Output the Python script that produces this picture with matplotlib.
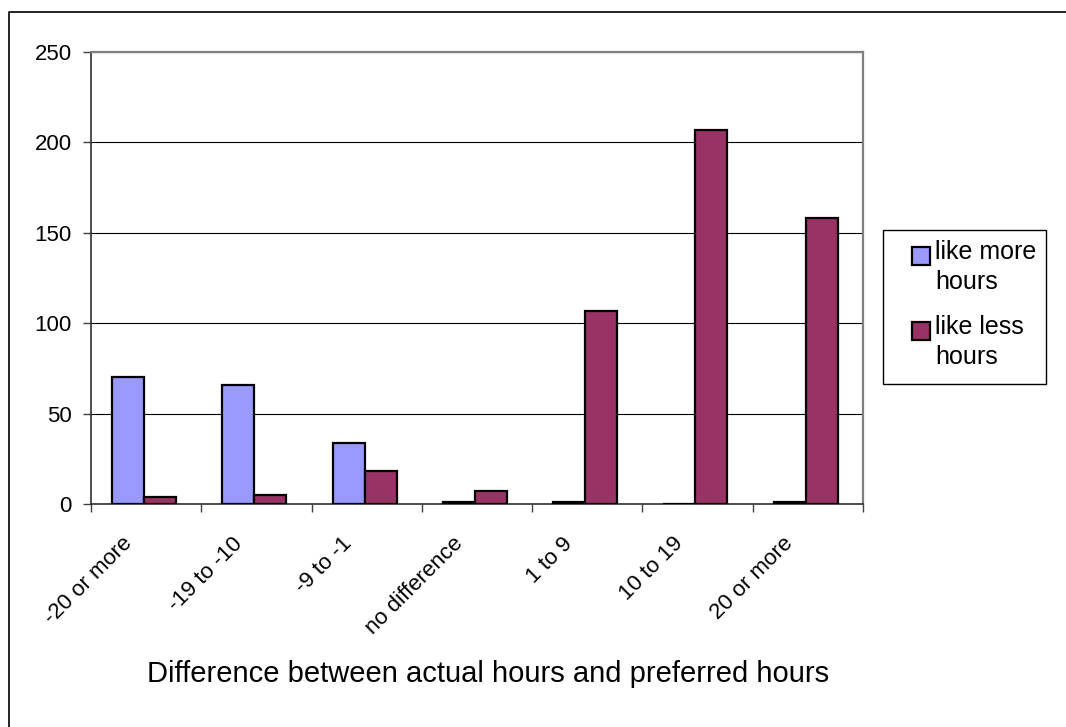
import numpy as np
import matplotlib
matplotlib.use("Agg")
import matplotlib.pyplot as plt
import matplotlib.transforms as mtransforms
from matplotlib.lines import Line2D
from matplotlib.patches import Rectangle

plt.rcParams['font.family'] = ['Liberation Sans', 'DejaVu Sans']

categories = ['-20 or more', '-19 to -10', '-9 to -1', 'no difference',
              '1 to 9', '10 to 19', '20 or more']
more_hours = [70, 66, 34, 1, 1, 0, 1]
less_hours = [4, 5, 18, 7, 107, 207, 158]
series_names = ['like more\nhours', 'like less\nhours']
series_colors = ['#9999FF', '#993366']

W, H = 1066, 727
fig = plt.figure(figsize=(W / 100, H / 100), dpi=100)
ax = fig.add_axes([0.0854, 0.3067, 0.7242, 0.6217])


def fx(px):
    return px / W


def fy(py):
    return 1 - py / H


ind = np.arange(len(categories))
w = 0.29
ax.bar(ind - 0.02 - w / 2, more_hours, w, color=series_colors[0], edgecolor='black',
       linewidth=1.6, zorder=3)
ax.bar(ind - 0.02 + w / 2, less_hours, w, color=series_colors[1], edgecolor='black',
       linewidth=1.6, zorder=3)

ax.set_xlim(-0.5, len(categories) - 0.5)
ax.set_ylim(0, 250)
ax.set_yticks(np.arange(0, 251, 50))
ax.yaxis.grid(True, color='black', linewidth=0.8, zorder=0)
ax.set_axisbelow(True)

ax.set_xticks(np.arange(-0.5, len(categories), 1))
ax.set_xticklabels([])
ax.set_xticks(ind, minor=True)
ax.set_xticklabels(categories, minor=True, rotation=45, ha='right',
                   rotation_mode='anchor', fontsize=16)
ax.tick_params(axis='x', which='minor', length=0, pad=21)
ax.tick_params(axis='x', which='major', length=6, width=1, color='#404040')
ax.tick_params(axis='y', length=6, width=1, color='#404040', labelsize=16, pad=8)

shift = mtransforms.ScaledTranslation(-25 / 100, 0, fig.dpi_scale_trans)
for lab in ax.xaxis.get_minorticklabels():
    lab.set_transform(lab.get_transform() + shift)

for s in ['top', 'right']:
    ax.spines[s].set_color('#808080')
    ax.spines[s].set_linewidth(1.6)
for s in ['left', 'bottom']:
    ax.spines[s].set_color('#303030')
    ax.spines[s].set_linewidth(1.2)

# legend box, drawn by hand to match the original layout
fig.add_artist(Rectangle((fx(883), fy(384)), fx(1046) - fx(883), fy(230) - fy(384),
                         transform=fig.transFigure, facecolor='white',
                         edgecolor='black', linewidth=1.0))
for i, (name, col) in enumerate(zip(series_names, series_colors)):
    top = 247 + i * 75
    fig.add_artist(Rectangle((fx(912), fy(top + 18)), fx(930) - fx(912), fy(top) - fy(top + 18),
                             transform=fig.transFigure, facecolor=col,
                             edgecolor='black', linewidth=1.6))
    fig.text(fx(935), fy(240 + i * 75), name, ha='left', va='top',
             fontsize=18, linespacing=1.34)

fig.text(fx(488), fy(682), 'Difference between actual hours and preferred hours',
         ha='center', va='baseline', fontsize=21)

# outer chart frame (only left and top edges visible)
fig.add_artist(Line2D([fx(9), fx(9), 1.0], [0.0, fy(12), fy(12)],
                      transform=fig.transFigure, color='black', linewidth=1.2))

fig.savefig('out.png', dpi=100)
